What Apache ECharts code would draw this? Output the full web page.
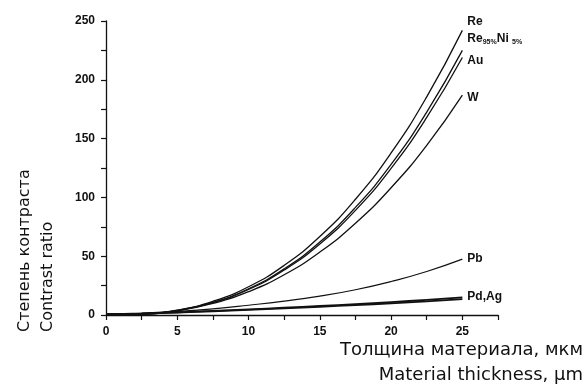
<!DOCTYPE html>
<html><head><meta charset="utf-8">
<script src="https://cdn.jsdelivr.net/npm/echarts@6/dist/echarts.min.js"></script>
<style>html,body{margin:0;padding:0;background:#fff}#c{width:585px;height:387px}</style>
</head><body><div id="c"></div>
<script>
const thickness = [0, 2.5, 5, 7.5, 10, 12.5, 15, 17.5, 20, 22.5, 25];
const re     = [0.5, 0.73, 4.2, 11.6, 24.0, 42.2, 66.7, 98.4, 137.8, 185.5, 242];
const reNi   = [0.5, 0.7, 3.9, 10.8, 22.3, 39.2, 62.0, 91.5, 128.0, 172.5, 225];
const au     = [0.5, 0.66, 3.8, 10.5, 21.7, 38.2, 60.4, 89.0, 124.7, 168.0, 219];
const w      = [0.5, 0.66, 3.6, 9.8, 19.8, 34.2, 53.5, 78.0, 108.2, 144.3, 187];
const pb     = [0.5, 1.5, 3.0, 5.2, 8.3, 11.8, 16.0, 21.5, 28.5, 37.0, 47.5];
const pd     = [0.5, 1.3, 2.3, 3.5, 4.8, 6.2, 7.7, 9.3, 11.0, 12.9, 15.0];
const ag     = [0.5, 1.2, 2.1, 3.2, 4.4, 5.7, 7.0, 8.4, 9.9, 11.6, 13.5];
const yTicks = [0, 50, 100, 150, 200, 250];
const xTicks = [0, 5, 10, 15, 20, 25];

const pair = arr => thickness.map((x, i) => [x, arr[i]]);
const labelFont = {fontFamily: 'Liberation Sans, Arial', fontWeight: 'bold', fontSize: 12, color: '#111'};
function mk(name, arr, label, offset, width, rich) {
  return {
    name, type: 'line', data: pair(arr), smooth: true, symbol: 'none',
    lineStyle: {color: '#111', width: width},
    endLabel: label ? Object.assign({show: true, formatter: label, distance: 5, offset: offset, rich: rich || {}}, labelFont) : {show: false},
    z: 3
  };
}
const chart = echarts.init(document.getElementById('c'), null, {renderer: 'canvas'});
chart.setOption({
  animation: false,
  grid: {left: 106, right: 87, top: 21, bottom: 72},
  xAxis: {
    type: 'value', min: 0, max: 27.5, interval: 5,
    axisLine: {lineStyle: {color: '#111', width: 1.3}},
    axisTick: {show: true, length: 5, lineStyle: {color: '#111', width: 1.2}},
    minorTick: {show: true, splitNumber: 2, length: 5, lineStyle: {color: '#111', width: 1.2}},
    splitLine: {show: false},
    axisLabel: Object.assign({margin: 11, formatter: v => xTicks.includes(v) ? String(v) : ''}, labelFont)
  },
  yAxis: {
    type: 'value', min: 0, max: 250, interval: 50,
    axisLine: {show: true, lineStyle: {color: '#111', width: 1.3}},
    axisTick: {show: true, length: 5, lineStyle: {color: '#111', width: 1.2}},
    minorTick: {show: true, splitNumber: 2, length: 5, lineStyle: {color: '#111', width: 1.2}},
    splitLine: {show: false},
    axisLabel: Object.assign({margin: 11, formatter: v => yTicks.includes(v) ? String(v) : ''}, labelFont)
  },
  series: [
    mk('Re', re, 'Re', [0, -9], 1.3),
    mk('Re95Ni5', reNi, 'Re{s|95%}Ni {s|5%}', [0, -12], 1.3, {s: {fontSize: 7, fontWeight: 'bold', fontFamily: 'Liberation Sans, Arial', color: '#111', verticalAlign: 'bottom', padding: [7, 0, 0, 0]}}),
    mk('Au', au, 'Au', [0, 3], 1.3),
    mk('W', w, 'W', [0, 3], 1.3),
    mk('Pb', pb, 'Pb', [0, 0], 1.2),
    mk('Pd', pd, 'Pd,Ag', [0, -1], 1.8),
    mk('Ag', ag, null, [0, 0], 1.8)
  ],
  graphic: [
    {type: 'text', x: 17, y: 332, rotation: Math.PI / 2, style: {text: 'Степень контраста', font: '16px "DejaVu Sans"', fill: '#111', textAlign: 'left', textVerticalAlign: 'top'}},
    {type: 'text', x: 40, y: 332, rotation: Math.PI / 2, style: {text: 'Contrast ratio', font: '16px "DejaVu Sans"', fill: '#111', textAlign: 'left', textVerticalAlign: 'top'}},
    {type: 'text', x: 583, y: 341, style: {text: 'Толщина материала, мкм', font: '18px "DejaVu Sans"', fill: '#111', textAlign: 'right', textVerticalAlign: 'top'}},
    {type: 'text', x: 583, y: 366, style: {text: 'Material thickness, µm', font: '18px "DejaVu Sans"', fill: '#111', textAlign: 'right', textVerticalAlign: 'top'}}
  ]
});
</script></body></html>
